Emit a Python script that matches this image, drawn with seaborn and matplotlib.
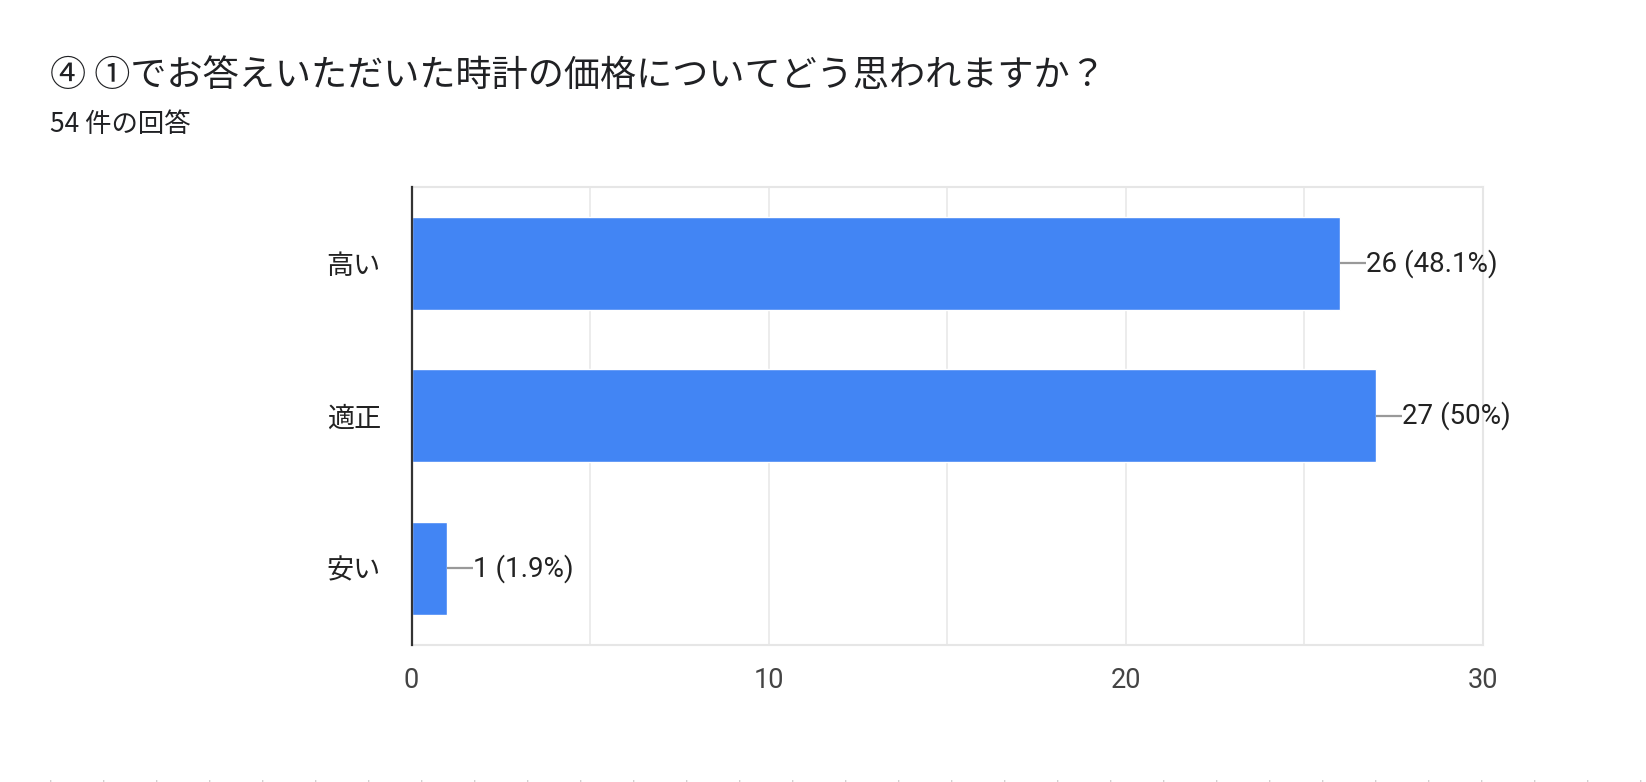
import matplotlib
matplotlib.use("Agg")
import matplotlib.pyplot as plt
from matplotlib.lines import Line2D
import pandas as pd
import seaborn as sns

# ---------------------------------------------------------------------------
# Data
# ---------------------------------------------------------------------------

TITLE = "④ ①でお答えいただいた時計の価格についてどう思われますか？"
SUBTITLE = "54 件の回答"
categories = ["高い", "適正", "安い"]
counts = [26, 27, 1]
percent_labels = ["48.1%", "50%", "1.9%"]
x_ticks = [0, 10, 20, 30]

BAR_COLOR = "#4285F4"
JP = ["Noto Sans CJK JP", "DejaVu Sans"]
NUM = ["Roboto", "Noto Sans CJK JP", "DejaVu Sans"]

W, H = 1646, 782

sns.set_theme(style="white")
plt.rcParams["font.family"] = JP

df = pd.DataFrame({"category": categories, "count": counts})

fig = plt.figure(figsize=(W / 100, H / 100), dpi=100)
ax_l, ax_r, ax_t, ax_b = 411.5, 1483, 187, 644.5
ax = fig.add_axes([ax_l / W, 1 - ax_b / H, (ax_r - ax_l) / W, (ax_b - ax_t) / H])

sns.barplot(data=df, x="count", y="category", orient="h", color=BAR_COLOR,
            saturation=1, width=0.61, ax=ax, zorder=3)

ax.set_xlim(0, 30)
ax.set_ylim(2.5, -0.5)
ax.set_xticks(x_ticks)
ax.set_xticks(range(0, 31, 5), minor=True)
ax.grid(axis="x", which="both", color="#ebebeb", linewidth=1.3, zorder=0)
ax.set_xlabel("")
ax.set_ylabel("")

for side in ["top", "right", "bottom"]:
    ax.spines[side].set_color("#e6e6e6")
    ax.spines[side].set_linewidth(1.5)
ax.spines["left"].set_color("#333333")
ax.spines["left"].set_linewidth(1.6)
ax.spines["left"].set_zorder(4)

ax.tick_params(axis="x", length=0, pad=16, labelsize=19.5, labelcolor="#444444")
ax.tick_params(axis="y", length=0, pad=22, labelsize=19.5, labelcolor="#222222")
for lbl in ax.get_xticklabels():
    lbl.set_fontfamily(NUM)

# value labels with leader lines
for i, (c, p) in enumerate(zip(counts, percent_labels)):
    ax.plot([c, c + 0.73], [i, i], color="#999999", linewidth=1.6, zorder=4,
            solid_capstyle="butt")
    ax.text(c + 0.73, i, f"{c} ({p})", ha="left", va="center", fontsize=20,
            color="#222222", family=NUM, zorder=5)

fig.text(50 / W, 1 - 76 / H, TITLE, fontsize=26, color="#202124",
         ha="left", va="center")
fig.text(50 / W, 1 - 124 / H, SUBTITLE, fontsize=19, color="#202124",
         ha="left", va="center")

# faint dotted separator at the very bottom
fig.add_artist(Line2D([50 / W, 1], [1.5 / H, 1.5 / H], color="#c8c8c8",
                      linewidth=1.2, linestyle=(0, (0.8, 31))))

fig.savefig("out.png", dpi=100, facecolor="white")
